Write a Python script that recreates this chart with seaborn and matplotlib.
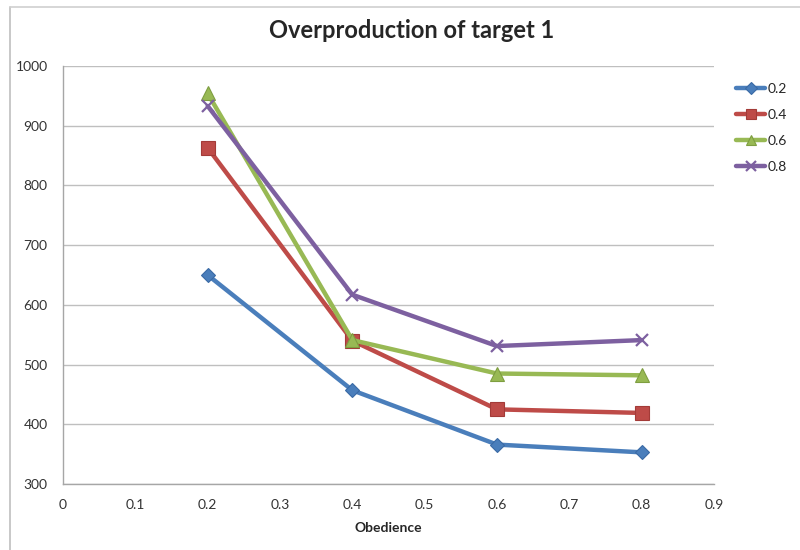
import matplotlib
matplotlib.use("Agg")
import matplotlib.pyplot as plt
from matplotlib.lines import Line2D
import seaborn as sns
import pandas as pd

# Obedience levels on the x axis and one series per setting
obedience = [0.2, 0.4, 0.6, 0.8]
series_labels = ["0.2", "0.4", "0.6", "0.8"]
values_02 = [650, 457, 366, 353]
values_04 = [863, 540, 425, 419]
values_06 = [954, 541, 485, 482]
values_08 = [933, 617, 531, 541]

x_ticks = [0, 0.1, 0.2, 0.3, 0.4, 0.5, 0.6, 0.7, 0.8, 0.9]
y_ticks = [300, 400, 500, 600, 700, 800, 900, 1000]

colors = {"0.2": "#4A7EBB", "0.4": "#BE4B48", "0.6": "#98B954", "0.8": "#7D60A0"}
edges = {"0.2": "#3A6AA5", "0.4": "#A33B38", "0.6": "#7E9E40", "0.8": "#7D60A0"}
markers = {"0.2": "D", "0.4": "s", "0.6": "^", "0.8": "x"}
msizes = {"0.2": 7.5, "0.4": 10.5, "0.6": 9.5, "0.8": 9}

rows = []
for lab, vals in zip(series_labels, [values_02, values_04, values_06, values_08]):
    for x, v in zip(obedience, vals):
        rows.append({"Obedience": x, "value": v, "series": lab})
df = pd.DataFrame(rows)

sns.set_theme(style="white")
plt.rcParams["font.family"] = ["Lato", "DejaVu Sans"]

fig = plt.figure(figsize=(8, 5.5), dpi=100)
ax = fig.add_axes([63 / 800, 66 / 550, 651 / 800, 418 / 550])

for lab in series_labels:
    sub = df[df["series"] == lab]
    sns.lineplot(data=sub, x="Obedience", y="value", ax=ax, color=colors[lab],
                 linewidth=3.2, marker=markers[lab], markersize=msizes[lab],
                 markerfacecolor=colors[lab], markeredgecolor=edges[lab],
                 markeredgewidth=1.6 if lab == "0.8" else 0.8, label=lab)

ax.set_xlim(0, 0.9)
ax.set_ylim(300, 1000)
ax.set_xticks(x_ticks)
ax.set_xticklabels([f"{t:g}" for t in x_ticks])
ax.set_yticks(y_ticks)
ax.yaxis.grid(True, color="#BFBFBF", linewidth=1)
ax.xaxis.grid(False)
ax.set_axisbelow(True)
for side in ["top", "right"]:
    ax.spines[side].set_visible(False)
for side in ["left", "bottom"]:
    ax.spines[side].set_color("#A6A6A6")
    ax.spines[side].set_linewidth(1)
ax.tick_params(axis="y", which="major", direction="out", length=3, width=1,
               color="#A6A6A6", labelsize=10, labelcolor="#333333", pad=8)
ax.tick_params(axis="x", which="major", length=0, labelsize=10,
               labelcolor="#333333", pad=11)
ax.set_xlabel("Obedience", fontsize=10, fontweight="bold", labelpad=8)
ax.set_ylabel("")

fig.suptitle("Overproduction of target 1", x=0.515, y=0.965, fontsize=17,
             fontweight="bold")

ax.legend(loc="upper left", bbox_to_anchor=(736 / 800, 1 - 83 / 550),
          bbox_transform=fig.transFigure, frameon=False, fontsize=10,
          handlelength=2.1, labelspacing=1.0, handletextpad=0.15,
          borderaxespad=0, borderpad=0, markerscale=0.75)

# chart frame edges
fig.add_artist(Line2D([10 / 800, 10 / 800], [0, 1 - 7 / 550],
                      transform=fig.transFigure, color="#BFBFBF", linewidth=1.2))
fig.add_artist(Line2D([10 / 800, 1], [1 - 7 / 550, 1 - 7 / 550],
                      transform=fig.transFigure, color="#D0D0D0", linewidth=1.2))

fig.savefig("out.png", dpi=100)
